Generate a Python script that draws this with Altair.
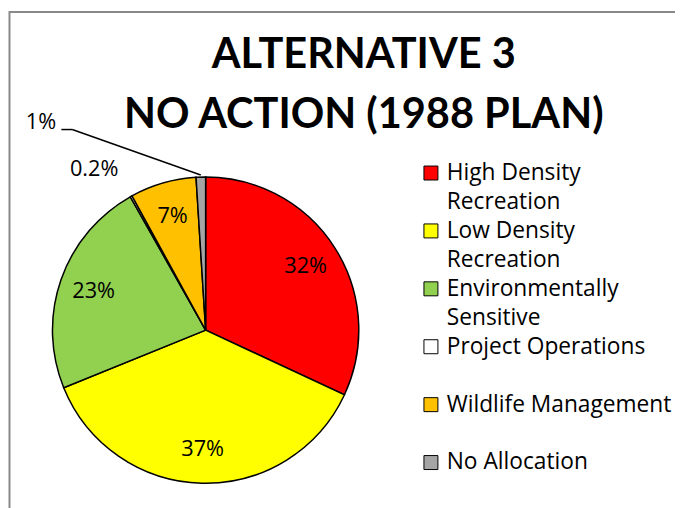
import altair as alt
import pandas as pd

# ---- data ----
categories = ["High Density Recreation", "Low Density Recreation", "Environmentally Sensitive",
              "Project Operations", "Wildlife Management", "No Allocation"]
values = [32, 37, 23, 0.2, 7, 1]
pct_labels = ["32%", "37%", "23%", "0.2%", "7%", "1%"]
colors = ["#FF0000", "#FFFF00", "#92D050", "#FFFFFF", "#FFC000", "#A5A5A5"]
legend_line1 = ["High Density", "Low Density", "Environmentally", "Project Operations",
                "Wildlife Management", "No Allocation"]
legend_line2 = ["Recreation", "Recreation", "Sensitive", "", "", ""]
title_lines = ["ALTERNATIVE 3", "NO ACTION (1988 PLAN)"]

# ---- layout/style ----
FONT = "Open Sans"
TFONT = "Lato"
P = 140
W, H = 675, 500 - P
CX, CY, R = 200, 183, 155

pie_df = pd.DataFrame({"category": categories, "value": values, "pct": pct_labels,
                       "idx": list(range(len(categories)))})

leg_rows = []
for i, (c, l1, l2) in enumerate(zip(categories, legend_line1, legend_line2)):
    leg_rows.append({"category": c, "slot": 2 * i, "line": l1, "first": True})
    leg_rows.append({"category": c, "slot": 2 * i + 1, "line": l2, "first": False})
leg_df = pd.DataFrame(leg_rows)

title_df = pd.DataFrame({"line": list(range(len(title_lines))), "text": title_lines})

color_scale = alt.Scale(domain=categories, range=colors)
slot_scale = alt.Scale(domain=[0, 11], range=[24, 346.3])
title_scale = alt.Scale(domain=[0, 1], range=[-82, -22])

base = alt.Chart(pie_df).encode(
    theta=alt.Theta("value:Q", stack=True),
    order=alt.Order("idx:Q"),
    x=alt.value(CX),
    y=alt.value(CY),
)

arcs = base.mark_arc(outerRadius=R, stroke="black", strokeWidth=1.5).encode(
    color=alt.Color("category:N", scale=color_scale, legend=None)
)

main_labels = base.mark_text(radius=120, fontSize=22, font=FONT, color="black").encode(
    text="lab:N"
).transform_calculate(lab="datum.value >= 5 ? datum.pct : ''")

small1 = base.mark_text(radius=195, dx=-18, dy=7, fontSize=22, font=FONT, color="black").encode(
    text="lab:N"
).transform_calculate(lab="datum.idx == 3 ? datum.pct : ''")

small2 = base.mark_text(radius=211, dx=-160, dy=0, fontSize=22, font=FONT, color="black").encode(
    text="lab:N"
).transform_calculate(lab="datum.idx == 5 ? datum.pct : ''")

leader = alt.Chart(pie_df).transform_joinaggregate(
    total="sum(value)"
).transform_window(
    cum="sum(value)", sort=[alt.SortField("idx")]
).transform_calculate(
    mid="(datum.cum - datum.value / 2) / datum.total",
    px=f"{CX} + {R + 2} * sin(2 * PI * datum.mid)",
    py=f"{CY} - {R + 2} * cos(2 * PI * datum.mid)",
).transform_filter("datum.idx == 5").mark_rule(color="black", strokeWidth=1.5).encode(
    x=alt.X("px:Q", scale=None),
    y=alt.Y("py:Q", scale=None),
    x2=alt.value(65),
    y2=alt.value(-20),
)
leader_h = alt.Chart(pie_df).transform_filter("datum.idx == 5").mark_rule(
    color="black", strokeWidth=1.5
).encode(x=alt.value(54), x2=alt.value(65), y=alt.value(-20))

leg_sq = alt.Chart(leg_df).transform_filter("datum.first").mark_square(
    size=200, stroke="black", strokeWidth=1, opacity=1
).encode(
    x=alt.value(428),
    y=alt.Y("slot:Q", scale=slot_scale, axis=None),
    color=alt.Color("category:N", scale=color_scale, legend=None),
)
leg_txt = alt.Chart(leg_df).mark_text(
    align="left", baseline="middle", fontSize=23, font=FONT, color="black"
).encode(
    x=alt.value(444),
    y=alt.Y("slot:Q", scale=slot_scale, axis=None),
    text="line:N",
)

title = alt.Chart(title_df).mark_text(
    align="center", baseline="alphabetic", fontSize=42, fontWeight="bold",
    font=TFONT, color="black"
).encode(
    x=alt.value(360),
    y=alt.Y("line:Q", scale=title_scale, axis=None),
    text="text:N",
)

frame = alt.Chart(pd.DataFrame({"k": [0]})).mark_rect(
    fill=None, stroke="#898989", strokeWidth=2
).encode(x=alt.value(1.5), x2=alt.value(900), y=alt.value(-139), y2=alt.value(700))

chart = alt.layer(
    frame, arcs, main_labels, small1, small2, leader, leader_h, leg_sq, leg_txt, title
).resolve_scale(
    x="independent", y="independent"
).properties(
    width=W,
    height=H,
    padding={"left": 0, "top": P, "right": 0, "bottom": 0},
    autosize=alt.AutoSizeParams(type="none"),
).configure_view(stroke=None)

chart.save("out.html", embed_options={"renderer": "svg", "actions": False})
